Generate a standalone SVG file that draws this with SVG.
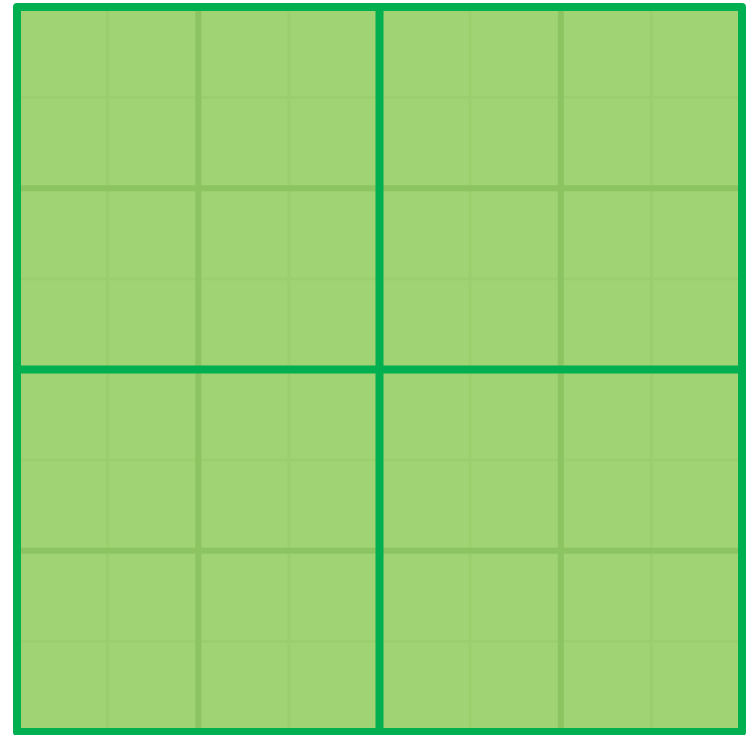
<svg xmlns="http://www.w3.org/2000/svg" width="752" height="735" viewBox="0 0 752 735">
<style>
.faint{stroke:#9bcf6e;stroke-width:3;fill:none}
.mid{stroke:#8cc462;stroke-width:6;fill:none}
.thick{stroke:#00b050;stroke-width:8;fill:none}
</style>
<rect x="0" y="0" width="752" height="735" fill="#ffffff"/>
<rect x="17" y="7" width="725" height="725" fill="#a0d373"/>
<g id="faint-lines" class="faint">
<line x1="107.6" y1="7" x2="107.6" y2="732"/>
<line x1="288.9" y1="7" x2="288.9" y2="732"/>
<line x1="470.1" y1="7" x2="470.1" y2="732"/>
<line x1="651.4" y1="7" x2="651.4" y2="732"/>
<line x1="17" y1="97.6" x2="742" y2="97.6"/>
<line x1="17" y1="278.9" x2="742" y2="278.9"/>
<line x1="17" y1="460.1" x2="742" y2="460.1"/>
<line x1="17" y1="641.4" x2="742" y2="641.4"/>
</g>
<g id="mid-lines" class="mid">
<line x1="198.3" y1="7" x2="198.3" y2="732"/>
<line x1="560.8" y1="7" x2="560.8" y2="732"/>
<line x1="17" y1="188.3" x2="742" y2="188.3"/>
<line x1="17" y1="550.8" x2="742" y2="550.8"/>
</g>
<g id="thick-lines" class="thick">
<line x1="379.5" y1="7" x2="379.5" y2="732"/>
<line x1="17" y1="369.5" x2="742" y2="369.5"/>
<rect x="17" y="7" width="725" height="725" stroke-linejoin="round"/>
</g>
</svg>
